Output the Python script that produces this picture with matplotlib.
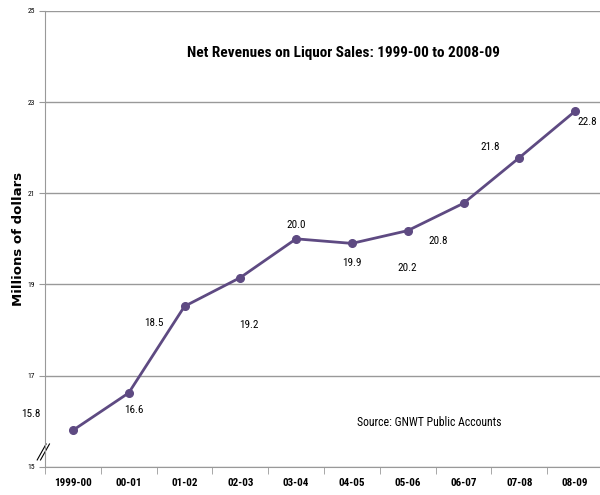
import matplotlib.pyplot as plt
from matplotlib import font_manager
import numpy as np

# Net revenues on liquor sales, millions of dollars
years = ['1999-00', '00-01', '01-02', '02-03', '03-04', '04-05',
         '05-06', '06-07', '07-08', '08-09']
revenues = [15.8, 16.62, 18.52, 19.15, 20.0, 19.9, 20.18, 20.78, 21.78, 22.8]
labels = ['15.8', '16.6', '18.5', '19.2', '20.0', '19.9', '20.2', '20.8', '21.8', '22.8']
# label offsets in points (dx, dy)
offsets = [(-30, 12), (4, -12), (-22, -12), (6, -34), (0, 10), (0, -14),
           (0, -27), (-18, -27), (-21, 8), (9, -8)]

# pick a condensed font if there is one
installed = {(f.name, f.stretch) for f in font_manager.fontManager.ttflist}
names = {n for n, s in installed}
stretch = 'normal'
if 'Liberation Sans Narrow' in names:
    narrow = ['Liberation Sans Narrow', 'DejaVu Sans']
elif 'Roboto Condensed' in names:
    narrow = ['Roboto Condensed', 'DejaVu Sans']
elif ('DejaVu Sans', 'condensed') in installed or ('DejaVu Sans', 'semi-condensed') in installed:
    narrow = ['DejaVu Sans']
    stretch = 'condensed'
else:
    narrow = ['DejaVu Sans']

line_color = '#5e4a82'
grey = '#999999'

fig = plt.figure(figsize=(6, 4.95), dpi=100)
ax = fig.add_axes([0.075, 0.057, 0.93, 0.921])

x = np.arange(len(years))
ax.plot(x, revenues, color=line_color, lw=2, marker='o', ms=5.5, zorder=3)

for xi, yi, lab, (dx, dy) in zip(x, revenues, labels, offsets):
    ax.annotate(lab, (xi, yi), xytext=(dx, dy), textcoords='offset points',
                ha='center', va='center', fontsize=8, family=narrow,
                fontstretch=stretch)

ax.set_ylim(15, 25)
ax.set_yticks([15, 17, 19, 21, 23, 25])
ax.set_yticklabels(['15', '17', '19', '21', '23', '25'], fontsize=5.5,
                   family=narrow, fontstretch=stretch)
ax.set_xlim(-0.5, 9.5)
ax.set_xticks(x)
ax.set_xticklabels(years, fontsize=8, fontweight='bold', family=narrow,
                   fontstretch=stretch)
ax.set_xticks(np.arange(-0.5, 9.6, 1), minor=True)
ax.tick_params(axis='x', which='major', length=0, pad=8)
ax.tick_params(axis='x', which='minor', length=5, color=grey)
ax.tick_params(axis='y', length=4, color=grey, pad=3)

ax.grid(axis='y', color=grey, lw=1)
ax.set_axisbelow(True)
for side in ['top', 'right']:
    ax.spines[side].set_visible(False)
for side in ['left', 'bottom']:
    ax.spines[side].set_color(grey)

ax.set_ylabel('Millions of dollars', fontsize=9.5, fontweight='bold', labelpad=2)

ax.text(0.534, 0.908, 'Net Revenues on Liquor Sales: 1999-00 to 2008-09',
        transform=ax.transAxes, ha='center', va='center', fontsize=11,
        fontweight='bold', family=narrow, fontstretch=stretch)
ax.text(5.1, 15.9, 'Source: GNWT Public Accounts', fontsize=8.5, family=narrow,
        fontstretch=stretch)

# axis break marks
for dx in (0, 0.06):
    ax.plot([-0.64 + dx, -0.48 + dx], [15.15, 15.5], color='black', lw=0.8,
            clip_on=False)

fig.savefig('out.png', dpi=100)
